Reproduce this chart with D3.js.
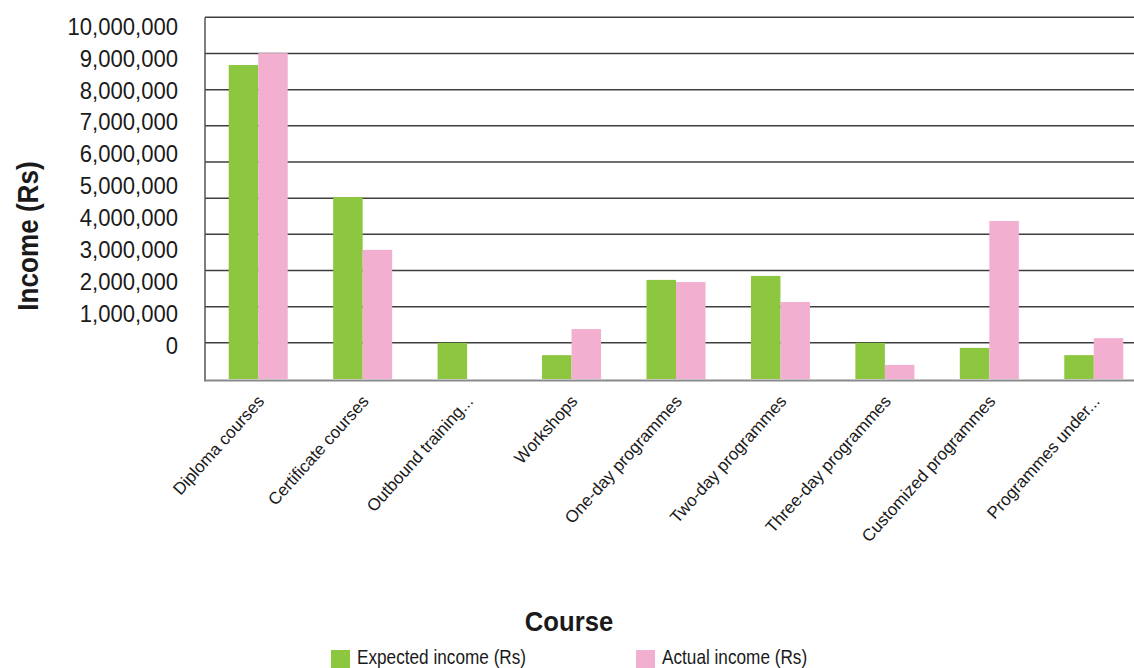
<!DOCTYPE html>
<html>
<head>
<meta charset="utf-8">
<script src="https://cdn.jsdelivr.net/npm/d3@7"></script>
<style>
  html, body { margin: 0; padding: 0; background: #fff; }
  svg { display: block; font-family: "Liberation Sans", Arial, sans-serif; }
</style>
</head>
<body>
<svg id="chart" width="1134" height="668"></svg>
<script>
// Course categories (x axis)
const courses = [
  "Diploma courses",
  "Certificate courses",
  "Outbound training...",
  "Workshops",
  "One-day programmes",
  "Two-day programmes",
  "Three-day programmes",
  "Customized programmes",
  "Programmes under..."
];

// Income per course, in rupees
const expectedIncome = [8680000, 5030000, 1000000, 660000, 2740000, 2850000, 1000000, 860000, 660000];
const actualIncome   = [9010000, 3570000, 0, 1380000, 2680000, 2130000, 390000, 4370000, 1130000];

// Value axis ticks
const yTicks = [0, 1000000, 2000000, 3000000, 4000000, 5000000, 6000000, 7000000, 8000000, 9000000, 10000000];

const seriesNames  = ["Expected income (Rs)", "Actual income (Rs)"];
const seriesColors = ["#8DC63F", "#F3AFD0"];

const svg = d3.select("#chart");

const plot = { left: 205, right: 1146, top: 17.3, bottom: 379 };

const x = d3.scaleBand()
  .domain(courses)
  .range([plot.left + 1, plot.right])
  .paddingInner(0.435)
  .paddingOuter(0.2175);

const xSeries = d3.scaleBand()
  .domain(seriesNames)
  .range([0, x.bandwidth()]);

const y = d3.scaleLinear()
  .domain([0, 10000000])
  .range([plot.bottom, plot.top]);

// tick labels sit on their own, slightly tighter, scale
const yLabel = d3.scaleLinear()
  .domain([0, 10000000])
  .range([345, 26]);

const fmt = d3.format(",");

// horizontal gridlines
svg.append("g")
  .selectAll("line")
  .data(yTicks.filter(d => d > 0))
  .join("line")
  .attr("x1", plot.left)
  .attr("x2", 1134)
  .attr("y1", d => y(d))
  .attr("y2", d => y(d))
  .attr("stroke", "#3e3e3e")
  .attr("stroke-width", 1.5);

// bars
const rows = courses.map((c, i) => ({ course: c, values: [expectedIncome[i], actualIncome[i]] }));

svg.append("g")
  .selectAll("g")
  .data(rows)
  .join("g")
  .attr("transform", d => `translate(${x(d.course)},0)`)
  .selectAll("rect")
  .data(d => d.values.map((v, k) => ({ key: seriesNames[k], value: v, color: seriesColors[k] })))
  .join("rect")
  .attr("x", d => xSeries(d.key))
  .attr("width", xSeries.bandwidth())
  .attr("y", d => y(d.value))
  .attr("height", d => y(0) - y(d.value))
  .attr("fill", d => d.color);

// axis lines
svg.append("line")
  .attr("x1", plot.left).attr("x2", plot.left)
  .attr("y1", plot.top).attr("y2", y(0) + 2.5)
  .attr("stroke", "#555").attr("stroke-width", 1.5);

svg.append("line")
  .attr("x1", plot.left).attr("x2", 1134)
  .attr("y1", y(0) + 1.5).attr("y2", y(0) + 1.5)
  .attr("stroke", "#8a8a8a").attr("stroke-width", 2);

// y tick labels
const yAxis = svg.append("g")
  .attr("transform", "translate(178,0)")
  .call(d3.axisLeft(yLabel).tickValues(yTicks).tickFormat(fmt).tickSize(0).tickPadding(0));
yAxis.select(".domain").remove();
yAxis.selectAll("text")
  .attr("font-family", "'Liberation Sans', Arial, sans-serif")
  .attr("font-size", 23)
  .attr("fill", "#1a1a1a")
  .attr("dy", "0.36em")
  .attr("x", 0)
  .attr("transform", "scale(0.96,1)");

// x category labels, rotated
svg.append("g")
  .selectAll("text")
  .data(courses)
  .join("text")
  .attr("transform", d => `translate(${x(d) + x.bandwidth() / 2 + 7},${402}) rotate(-48)`)
  .attr("text-anchor", "end")
  .attr("font-size", 17)
  .attr("fill", "#1a1a1a")
  .text(d => d);

// axis titles
svg.append("text")
  .attr("transform", "translate(38,236) rotate(-90) scale(0.9,1)")
  .attr("text-anchor", "middle")
  .attr("font-size", 29)
  .attr("font-weight", "bold")
  .attr("fill", "#1a1a1a")
  .text("Income (Rs)");

svg.append("text")
  .attr("transform", "translate(569,631) scale(0.95,1)")
  .attr("text-anchor", "middle")
  .attr("font-size", 27)
  .attr("font-weight", "bold")
  .attr("fill", "#1a1a1a")
  .text("Course");

// legend
const legendX = [331, 636];
const legend = svg.append("g")
  .selectAll("g")
  .data(seriesNames)
  .join("g")
  .attr("transform", (d, i) => `translate(${legendX[i]},650)`);

legend.append("rect")
  .attr("width", 19)
  .attr("height", 18)
  .attr("fill", (d, i) => seriesColors[i]);

legend.append("text")
  .attr("transform", "translate(26,13.5) scale(0.86,1)")
  .attr("font-size", 20)
  .attr("fill", "#1a1a1a")
  .text(d => d);
</script>
</body>
</html>
